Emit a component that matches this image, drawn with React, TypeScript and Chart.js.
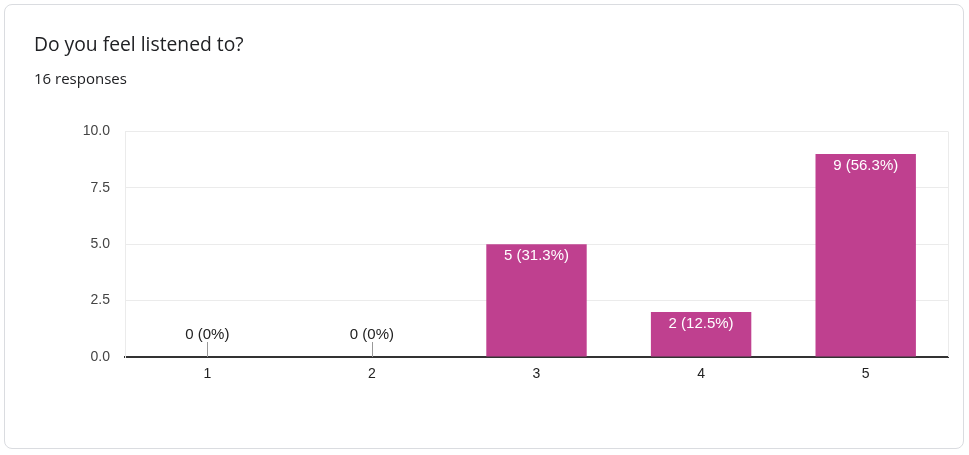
import React, { useEffect, useRef } from "react";
import { Chart, registerables } from "chart.js";

Chart.register(...registerables);

const categories = ["1", "2", "3", "4", "5"];
const counts = [0, 0, 5, 2, 9];
const totalResponses = 16;
const yTicks = [0, 2.5, 5, 7.5, 10];
const title = "Do you feel listened to?";
const subtitle = `${totalResponses} responses`;

const BAR = "#BF408F";
const LABEL_FONT = "15px 'Liberation Sans', Arial, sans-serif";

const labelPlugin = {
  id: "barLabels",
  afterDatasetsDraw(chart: any) {
    const { ctx } = chart;
    const meta = chart.getDatasetMeta(0);
    const yScale = chart.scales.y;
    ctx.save();
    ctx.font = LABEL_FONT;
    ctx.textAlign = "center";
    meta.data.forEach((el: any, i: number) => {
      const v = counts[i];
      const pct = (v / totalResponses) * 100;
      const pctStr = Number.isInteger(Math.round(pct * 10) / 10) ? `${Math.round(pct)}` : pct.toFixed(1);
      const txt = `${v} (${pctStr}%)`;
      if (v === 0) {
        const base = yScale.getPixelForValue(0);
        ctx.strokeStyle = "#999999";
        ctx.lineWidth = 1;
        ctx.beginPath();
        ctx.moveTo(Math.round(el.x) + 0.5, base);
        ctx.lineTo(Math.round(el.x) + 0.5, base - 15);
        ctx.stroke();
        ctx.fillStyle = "#222222";
        ctx.textBaseline = "alphabetic";
        ctx.fillText(txt, el.x, base - 18);
      } else {
        ctx.fillStyle = "#ffffff";
        ctx.textBaseline = "top";
        ctx.fillText(txt, el.x, el.y + 4);
      }
    });
    ctx.restore();
  },
};

const framePlugin = {
  id: "frame",
  beforeDatasetsDraw(chart: any) {
    const { ctx, chartArea } = chart;
    ctx.save();
    ctx.strokeStyle = "#ebebeb";
    ctx.lineWidth = 1;
    ctx.beginPath();
    ctx.moveTo(Math.round(chartArea.right) + 0.5, chartArea.top);
    ctx.lineTo(Math.round(chartArea.right) + 0.5, chartArea.bottom);
    ctx.stroke();
    ctx.restore();
  },
};

export default function App() {
  const ref = useRef<HTMLCanvasElement>(null);
  useEffect(() => {
    if (!ref.current) return;
    const chart = new Chart(ref.current, {
      type: "bar",
      data: {
        labels: categories,
        datasets: [
          {
            data: counts,
            backgroundColor: BAR,
            borderWidth: 0,
            barPercentage: 0.61,
            categoryPercentage: 1,
          },
        ],
      },
      options: {
        animation: false,
        responsive: false,
        maintainAspectRatio: false,
        layout: { padding: { top: 131.5, left: 0, right: 21, bottom: 0 } },
        plugins: { legend: { display: false }, tooltip: { enabled: false } },
        scales: {
          x: {
            grid: { display: false, drawTicks: false },
            border: { color: "#333333", width: 2 },
            ticks: {
              color: "#222222",
              font: { family: "'Liberation Sans', Arial, sans-serif", size: 14 },
              padding: 9,
            },
            afterFit: (s: any) => {
              s.height = 98;
            },
          },
          y: {
            min: 0,
            max: 10,
            afterBuildTicks: (s: any) => {
              s.ticks = yTicks.map((v) => ({ value: v }));
            },
            grid: {
              color: (c: any) => (c.tick && c.tick.value === 0 ? "rgba(0,0,0,0)" : "#ebebeb"),
              drawTicks: false,
            },
            border: { color: "#ebebeb", width: 1 },
            ticks: {
              color: "#444444",
              font: { family: "'Liberation Sans', Arial, sans-serif", size: 14 },
              padding: 15,
              callback: (v: any) => Number(v).toFixed(1),
            },
            afterFit: (s: any) => {
              s.width = 125;
            },
          },
        },
      },
      plugins: [framePlugin, labelPlugin],
    });
    return () => chart.destroy();
  }, []);

  return (
    <div style={{ position: "fixed", left: 0, top: 0, width: 969, height: 455, background: "#ffffff" }}>
      <div
        style={{
          position: "absolute",
          left: 4,
          top: 4,
          width: 960,
          height: 445,
          border: "1px solid #dadce0",
          borderRadius: 8,
          boxSizing: "border-box",
        }}
      />
      <canvas ref={ref} width={969} height={455} style={{ position: "absolute", left: 0, top: 0, width: 969, height: 455 }} />
      <div
        style={{
          position: "absolute",
          left: 34,
          top: 30,
          fontFamily: "'Open Sans', Roboto, sans-serif",
          fontSize: 19.3,
          lineHeight: "28px",
          color: "#202124",
        }}
      >
        {title}
      </div>
      <div
        style={{
          position: "absolute",
          left: 34,
          top: 68,
          fontFamily: "'Open Sans', Roboto, sans-serif",
          fontSize: 15,
          lineHeight: "20px",
          color: "#202124",
        }}
      >
        {subtitle}
      </div>
    </div>
  );
}
